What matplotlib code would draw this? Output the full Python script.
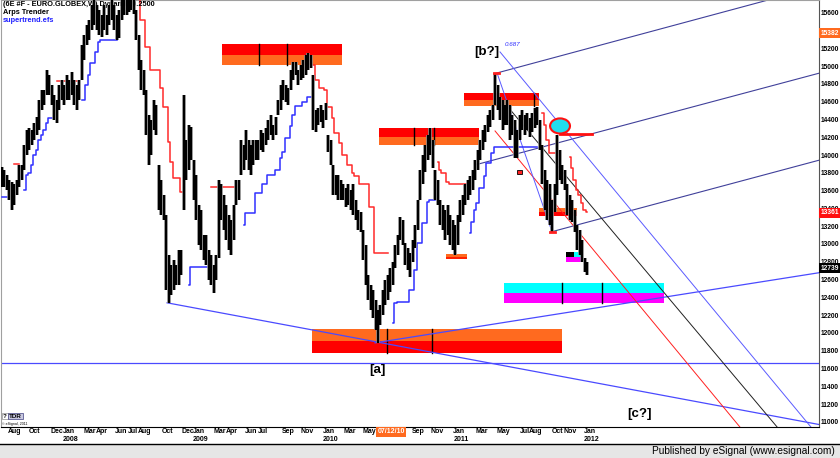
import matplotlib

matplotlib.use("Agg")
import matplotlib.pyplot as plt
import numpy as np
from matplotlib.lines import Line2D
from matplotlib.patches import Ellipse, Rectangle

plt.rcParams["font.family"] = ["Liberation Sans", "DejaVu Sans"]

# weekly 6E (Euro FX) bars, bar 0 = late June 2007
HIGHS = [
    13880, 13840, 13790, 13730, 13710, 13680, 13730, 13900, 13900, 14120,
    14290, 14320, 14290, 14370, 14440, 14630, 14740, 14740, 14970, 14910,
    14800, 14690, 14630, 14800, 14850, 14800, 14910, 14850, 14950, 14850,
    14800, 14850, 15250, 15360, 15470, 15530, 15700, 15870, 15700, 15640,
    15590, 15700, 15590, 15700, 15870, 15700, 15590, 15640, 15810, 15920,
    15870, 15980, 16040, 15920, 15640, 15360, 15080, 14970, 14740, 14460,
    14410, 14630, 14570, 13900, 13730, 13560, 13340, 12890, 12780, 12830,
    12780, 12940, 12940, 14690, 14180, 14350, 14330, 13960, 13790, 13450,
    13390, 13110, 13110, 12940, 12890, 12780, 12890, 13730, 13680, 13560,
    13450, 13340, 13280, 13450, 13730, 13730, 14180, 14120, 14290, 14180,
    14120, 14180, 14180, 14180, 14290, 14260, 14320, 14410, 14460, 14350,
    14440, 14630, 14800, 14850, 14800, 14770, 14970, 15060, 15060, 14970,
    15020, 15080, 15140, 15160, 15140, 14910, 14520, 14540, 14570, 14520,
    14600, 14240, 14180, 13900, 13790, 13790, 13730, 13680, 13640, 13680,
    13620, 13680, 13510, 13390, 13370, 13170, 13000, 12660, 12550, 12490,
    12380, 12270, 12330, 12490, 12610, 12660, 12740, 12810, 13000, 13110,
    13320, 13280, 13020, 12970, 12910, 13060, 13230, 13510, 13840, 14010,
    14120, 14240, 14320, 14180, 13840, 13730, 13510, 13450, 13390, 13450,
    13340, 13280, 13230, 13340, 13510, 13560, 13680, 13730, 13770, 13840,
    13960, 14070, 14180, 14290, 14350, 14460, 14520, 14570, 14930, 14800,
    14660, 14630, 14570, 14630, 14570, 14460, 14410, 14290, 14460, 14520,
    14460, 14480, 14430, 14480, 14540, 14550, 14410, 14120, 13840, 13730,
    13680, 13510, 13680, 14240, 14070, 13900, 13840, 13680, 13560, 13510,
    13390, 13230, 13170, 13060, 12850, 12810,
]
LOWS = [
    13650, 13650, 13620, 13510, 13390, 13450, 13560, 13650, 13730, 13840,
    14010, 14070, 14120, 14180, 14240, 14290, 14520, 14570, 14690, 14690,
    14570, 14410, 14370, 14520, 14630, 14570, 14630, 14630, 14690, 14570,
    14520, 14630, 14850, 15080, 15250, 15300, 15420, 15470, 15420, 15360,
    15340, 15420, 15360, 15470, 15530, 15420, 15300, 15330, 15530, 15590,
    15590, 15620, 15640, 15600, 15300, 14970, 14740, 14690, 14240, 13900,
    14010, 14290, 14240, 13390, 13340, 13280, 12490, 12350, 12440, 12490,
    12550, 12550, 12660, 13390, 13730, 13840, 13960, 13510, 13280, 13000,
    12940, 12830, 12780, 12610, 12550, 12460, 12610, 12850, 13280, 13170,
    13060, 12940, 12890, 13060, 13450, 13510, 13790, 13840, 13960, 13840,
    13790, 13900, 13960, 13960, 14070, 14050, 14120, 14180, 14240, 14180,
    14240, 14460, 14520, 14630, 14610, 14570, 14740, 14850, 14910, 14800,
    14850, 14880, 14910, 14970, 14990, 14290, 14270, 14350, 14380, 14320,
    14410, 14050, 13900, 13560, 13560, 13510, 13510, 13510, 13430, 13450,
    13390, 13340, 13280, 13170, 13150, 12830, 12550, 12380, 12270, 12180,
    12050, 11900, 12100, 12210, 12330, 12380, 12470, 12550, 12740, 12890,
    13060, 13000, 12780, 12720, 12640, 12810, 12970, 13170, 13510, 13680,
    13820, 13960, 14010, 13870, 13510, 13450, 13230, 13170, 13060, 13110,
    13000, 12940, 12890, 13000, 13260, 13340, 13450, 13510, 13560, 13620,
    13730, 13840, 13960, 14070, 14160, 14270, 14330, 14410, 14570, 14520,
    14410, 14290, 14350, 14350, 14180, 14240, 13980, 13980, 14180, 14290,
    14240, 14290, 14210, 14270, 14320, 14350, 14070, 13680, 13390, 13280,
    13230, 13150, 13370, 13560, 13730, 13680, 13620, 13340, 13280, 13260,
    13150, 12940, 12890, 12810, 12700, 12660,
]

# indicator stops as (first bar, values)
ARPS_RED = [
    (5, [13910, 13910, 13910]),
    (22, [14840] * 10),
    (55, [15800, 15530, 15530, 15230, 15230, 14970, 14970, 14970, 14970,
          14770, 14550, 14550, 14160, 13930, 13750, 13750, 13750, 13600, 13600]),
    (84, [13650] * 11),
    (125, [15020, 14850, 14850, 14770, 14770, 14740, 14550, 14550, 14430,
           14260, 14260, 14150, 14010, 14010, 13900, 13900, 13810, 13770,
           13770, 13680, 13680, 13680, 13680, 13430, 13430, 12910, 12910,
           12910, 12910, 12910, 12910]),
    (175, [13930, 13840, 13810, 13810, 13710, 13690, 13690, 13690, 13690,
           13690, 13690, 13690, 13690]),
    (217, [14480, 14350, 14180, 14030, 14030, 14030]),
    (228, [13990, 13870, 13730, 13620, 13560, 13470, 13390, 13370]),
]
SUPERTREND_BLUE = [
    (0, [13540, 13540, 13540, 13540]),
    (9, [13620, 13790, 13810, 13900, 14010, 14070, 14180, 14240, 14290,
         14370, 14430, 14430]),
    (32, [14630, 14630, 14800, 14910, 15050, 15050, 15170, 15280, 15300,
          15300, 15300, 15300, 15300, 15300, 15300]),
    (75, [12550, 12750, 12750, 12750, 12750, 12750, 12750, 12750, 12750]),
    (97, [13230, 13360, 13360, 13360, 13360, 13580, 13580, 13580, 13680,
          13680, 13790, 13790, 13790, 13840, 13840, 13980, 14050, 14200,
          14200, 14340, 14460, 14560, 14560, 14560, 14610, 14610, 14660,
          14660]),
    (157, [12120, 12350, 12360, 12360, 12360, 12360, 12360, 12490, 12490,
           12720, 13020, 13020, 13250, 13250, 13480, 13510, 13510, 13510]),
    (188, [13140, 13260, 13390, 13470, 13640, 13640, 13770, 13920, 13920,
           14030] + [14100] * 18),
]

# target zones: bar span, price top / split / bottom, bars with a marker tick
ZONE_BARS = [(88.4, 136.5), (151.4, 191.6), (185.5, 215.7), (124.5, 224.9),
             (201.6, 265.9), (215.7, 230.9), (178.3, 186.7)]
ZONE_PRICES = [(15260, 15140, 15020), (14320, 14210, 14120),
               (14710, 14630, 14560), (12060, 11920, 11790),
               (12570, 12460, 12350), (13420, 13370, 13330),
               (12900, 12870, 12840)]
ZONE_TICKS = [(103.3, 114.5), (165.5, 173.5), (198.8, 213.7), (154.6, 172.7),
              (224.9, 240.9), (), ()]
ZONE_COLORS = [("#ff0000", "#ff6a1f"), ("#ff0000", "#ff6a1f"),
               ("#ff0000", "#ff6a1f"), ("#ff6a1f", "#ff0000"),
               ("#00ffff", "#ff00ff"), ("#ff6a1f", "#ff0000"),
               ("#ff6a1f", "#ff2000")]

# drawn trend lines: (bar, price) -> (bar, price)
PITCHFORK_UP = [((198.8, 14934), (328.5, 15911)),
                ((190.0, 13900), (328.5, 14934)),
                ((220.5, 13147), (328.5, 13956))]
FORK_DOWN = [((200.0, 15170), (330.0, 10780)),
             ((203.2, 14551), (315.0, 10830)),
             ((198.0, 14282), (300.0, 10830))]
HANDLE = ((198.8, 14934), (220.9, 13147))
LOW_LINE = ((66.3, 12350), (328.5, 10980))
A_LINE = ((149.8, 11900), (328.5, 12690))
H_LEVEL = 11670

PRICE_TICKS = list(range(11000, 15601, 200))
FLAGS = [(15382, "#ff6a1f"), (13361, "#ff1010"), (12739, "#000000")]

MONTH_POS = [5.2, 12.9, 22.1, 26.9, 35.3, 40.2, 47.8, 52.6, 57.4, 66.3, 74.7,
             79.1, 87.6, 92.4, 100.0, 104.8, 114.9, 122.5, 131.3, 139.8,
             147.4, 167.1, 174.7, 183.5, 192.8, 201.2, 210.0, 214.1, 223.3,
             228.1, 236.1]
MONTH_TXT = ["Aug", "Oct", "Dec", "Jan", "Mar", "Apr", "Jun", "Jul", "Aug",
             "Oct", "Dec", "Jan", "Mar", "Apr", "Jun", "Jul", "Sep", "Nov",
             "Jan", "Mar", "May", "Sep", "Nov", "Jan", "Mar", "May", "Jul",
             "Aug", "Oct", "Nov", "Jan"]
YEAR_POS = [27.7, 79.9, 132.1, 184.3, 236.9]
YEAR_TXT = ["2008", "2009", "2010", "2011", "2012"]

fig = plt.figure(figsize=(8.4, 4.58), dpi=100)
ax = fig.add_axes([1 / 840, 31 / 458, 818 / 840, 427 / 458])
ax.set_xlim(-0.4, 328.1)
ax.set_ylim(10954, 15754)
ax.set_xticks([])
ax.set_yticks([])
for side in ("left", "top"):
    ax.spines[side].set_color("#a0a0a0")
ax.spines["right"].set_color("#555555")
ax.spines["bottom"].set_color("#000000")

# zones
for (x0, x1), (top, mid, bot), ticks, (c_up, c_lo) in zip(
        ZONE_BARS, ZONE_PRICES, ZONE_TICKS, ZONE_COLORS):
    ax.add_patch(Rectangle((x0, mid), x1 - x0, top - mid, fc=c_up, ec="none", zorder=1))
    ax.add_patch(Rectangle((x0, bot), x1 - x0, mid - bot, fc=c_lo, ec="none", zorder=1))
    for t in ticks:
        ax.plot([t, t], [bot, top], color="black", lw=1, zorder=1.5)
# small cyan/magenta box at the last low
ax.add_patch(Rectangle((226.5, 12866), 3.2, 56, fc="black", ec="none", zorder=1))
ax.add_patch(Rectangle((229.7, 12866), 3.6, 56, fc="#00ffff", ec="none", zorder=1))
ax.add_patch(Rectangle((226.5, 12810), 6.8, 56, fc="#ff00ff", ec="none", zorder=1))

# trend lines
ax.axhline(H_LEVEL, color="#4a4aff", lw=0.9, zorder=2)
for (a, b) in [LOW_LINE, A_LINE]:
    ax.plot([a[0], b[0]], [a[1], b[1]], color="#4a4aff", lw=0.9, zorder=2)
for (a, b) in PITCHFORK_UP:
    ax.plot([a[0], b[0]], [a[1], b[1]], color="#40409a", lw=0.8, zorder=2)
for (a, b), c in zip(FORK_DOWN, ["#5a5aff", "#202020", "#ff2020"]):
    ax.plot([a[0], b[0]], [a[1], b[1]], color=c, lw=0.7, zorder=2)
ax.plot([HANDLE[0][0], HANDLE[1][0]], [HANDLE[0][1], HANDLE[1][1]],
        color="#5a5aff", lw=0.7, zorder=2)

# Arps Trender / supertrend stops
for start, vals in ARPS_RED:
    xs = np.arange(start, start + len(vals))
    ax.step(xs, vals, where="mid", color="#ff2a2a", lw=1.1, zorder=3)
for start, vals in SUPERTREND_BLUE:
    xs = np.arange(start, start + len(vals))
    ax.step(xs, vals, where="mid", color="#3030ff", lw=1.1, zorder=3)

# price bars
bx = np.arange(len(HIGHS))
ax.vlines(bx, LOWS, HIGHS, color="#8c8c8c", lw=2.6, zorder=4)
ax.vlines(bx, LOWS, HIGHS, color="black", lw=1.5, zorder=5)

# pivot markers
ax.plot([197.6, 199.6], [14934, 14934], color="#ff2020", lw=2, zorder=6)
ax.add_patch(Rectangle((206.8, 13800), 2.0, 40, fc="#ff2020", ec="black", lw=0.6, zorder=6))
ax.plot([220.0, 222.1], [13147, 13147], color="#ff2020", lw=2, zorder=6)
ax.add_patch(Ellipse((224.1, 14338), 8.0, 170, fc="#22ddee", ec="#ff1010", lw=1.5, zorder=6))
ax.plot([224.1, 236.9], [14248, 14248], color="#ff1010", lw=2, zorder=6)

# wave labels
ax.text(194.8, 15170, "[b?]", ha="center", va="center", fontsize=9.5, fontweight="bold", zorder=7)
ax.text(201.8, 15250, "0.687", ha="left", va="center", fontsize=4.5, style="italic",
        color="#3030ff", zorder=7)
ax.text(150.6, 11595, "[a]", ha="center", va="center", fontsize=9.5, fontweight="bold", zorder=7)
ax.text(256.2, 11101, "[c?]", ha="center", va="center", fontsize=9.5, fontweight="bold", zorder=7)

# right price scale
ytr = ax.get_yaxis_transform()
for v in PRICE_TICKS:
    ax.text(1.0022, v, str(v), transform=ytr, ha="left", va="center",
            fontsize=4.8, fontweight="bold", clip_on=False, zorder=8)
for v, c in FLAGS:
    ax.text(1.0022, v, str(v), transform=ytr, ha="left", va="center",
            fontsize=4.8, fontweight="bold", color="white", clip_on=False, zorder=9,
            bbox=dict(boxstyle="square,pad=0.2", fc=c, ec="none"))

# date scale
xtr = ax.get_xaxis_transform()
for p, t in zip(MONTH_POS, MONTH_TXT):
    ax.text(p, -0.0117, t, transform=xtr, ha="center", va="center",
            fontsize=5.0, fontweight="bold", clip_on=False)
for p, t in zip(YEAR_POS, YEAR_TXT):
    ax.text(p, -0.0304, t, transform=xtr, ha="center", va="center",
            fontsize=5.0, fontweight="bold", clip_on=False)
ax.text(156.2, -0.0117, "07/12/10", transform=xtr, ha="center", va="center",
        fontsize=5.0, fontweight="bold", color="white", clip_on=False, zorder=9,
        bbox=dict(boxstyle="square,pad=0.25", fc="#ff6a1f", ec="none"))

# header texts behind the bars
ax.text(0.002, 0.99, "(6E #F - EURO.GLOBEX,W) Dynamic 0.2500", transform=ax.transAxes,
        ha="left", va="center", fontsize=5.3, fontweight="bold", zorder=3.5)
ax.text(0.002, 0.971, "Arps Trender", transform=ax.transAxes, ha="left", va="center",
        fontsize=5.3, fontweight="bold", zorder=3.5)
ax.text(0.002, 0.952, "supertrend.efs", transform=ax.transAxes, ha="left", va="center",
        fontsize=5.3, fontweight="bold", color="#2020ff", zorder=3.5)

# bottom-left badge
fig.text(3 / 840, 1 - 416 / 458, "?", fontsize=4.5, fontweight="bold", va="center",
         bbox=dict(boxstyle="square,pad=0.15", fc="white", ec="#909090", lw=0.5))
fig.text(9 / 840, 1 - 416 / 458, "TDR", fontsize=4.5, fontweight="bold", va="center",
         bbox=dict(boxstyle="square,pad=0.15", fc="#c8c8e0", ec="#404080", lw=0.5))
fig.text(2 / 840, 1 - 423.5 / 458, "\u00a9 eSignal, 2011", fontsize=2.6, va="center")

# footer
fig.add_artist(Rectangle((0, 0), 1, 13.5 / 458, transform=fig.transFigure,
                         fc="#e6e6e6", ec="none"))
fig.add_artist(Line2D([0, 1], [14 / 458, 14 / 458], transform=fig.transFigure,
                      color="black", lw=1))
fig.text(835 / 840, 6.5 / 458, "Published by eSignal (www.esignal.com)",
         ha="right", va="center", fontsize=7.3)

fig.savefig("out.png", dpi=100)
